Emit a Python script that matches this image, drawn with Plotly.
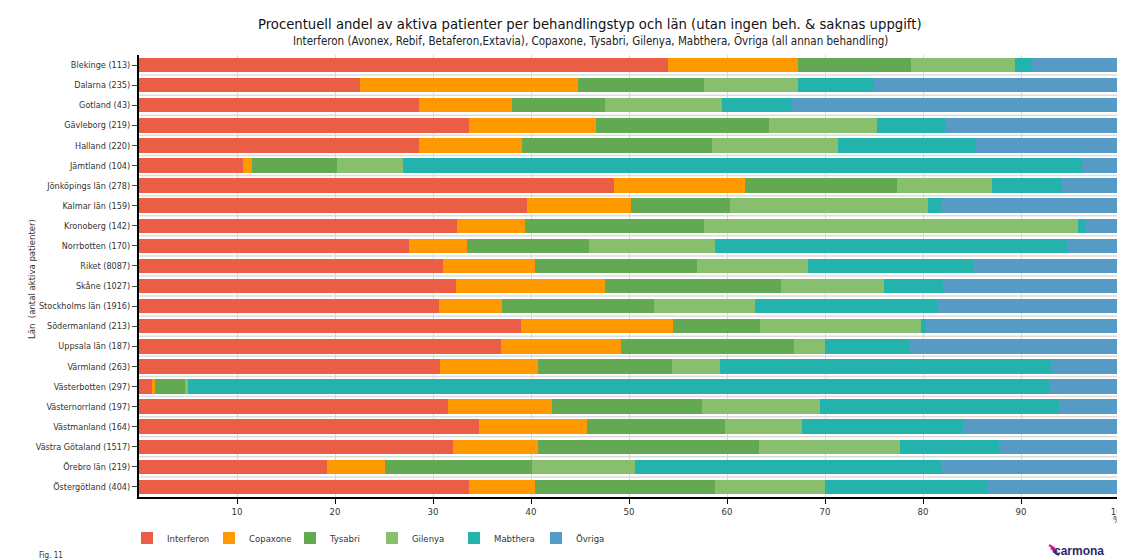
import plotly.graph_objects as go

lan = ["Blekinge (113)", "Dalarna (235)", "Gotland (43)", "Gävleborg (219)", "Halland (220)",
       "Jämtland (104)", "Jönköpings län (278)", "Kalmar län (159)", "Kronoberg (142)",
       "Norrbotten (170)", "Riket (8087)", "Skåne (1027)", "Stockholms län (1916)",
       "Södermanland (213)", "Uppsala län (187)", "Värmland (263)", "Västerbotten (297)",
       "Västernorrland (197)", "Västmanland (164)", "Västra Götaland (1517)",
       "Örebro län (219)", "Östergötland (404)"]

interferon = [54.0, 22.5, 28.6, 33.7, 28.6, 10.6, 48.5, 39.6, 32.4, 27.6, 31.0,
              32.3, 30.6, 39.0, 36.9, 30.7, 1.3, 31.5, 34.7, 32.0, 19.2, 33.7]
copaxone = [13.2, 22.3, 9.5, 12.9, 10.5, 0.9, 13.3, 10.6, 7.0, 5.9, 9.4,
            15.3, 6.4, 15.5, 12.3, 10.0, 0.3, 10.6, 11.0, 8.7, 5.9, 6.7]
tysabri = [11.6, 12.9, 9.5, 17.7, 19.4, 8.7, 15.5, 10.1, 18.3, 12.4, 16.5,
           17.9, 15.5, 8.9, 17.6, 13.7, 3.1, 15.3, 14.1, 22.6, 15.0, 18.4]
gilenya = [10.6, 9.5, 11.9, 11.0, 12.8, 6.7, 9.7, 20.2, 38.1, 12.9, 11.4,
           10.5, 10.4, 16.4, 3.2, 4.9, 0.3, 12.1, 7.9, 14.4, 10.5, 11.2]
mabthera = [1.7, 7.8, 7.1, 6.9, 14.1, 69.3, 7.2, 1.3, 0.7, 35.9, 16.8,
            6.0, 18.5, 0.5, 8.6, 33.8, 87.9, 24.4, 16.4, 10.1, 31.2, 16.6]
ovriga = [8.9, 25.0, 33.4, 17.8, 14.6, 3.8, 5.8, 18.2, 3.5, 5.3, 14.9,
          18.0, 18.6, 19.7, 21.4, 6.9, 7.1, 6.1, 15.9, 12.2, 18.2, 13.4]

series = [
    ("Interferon", interferon, "#EB5E46"),
    ("Copaxone", copaxone, "#FF9900"),
    ("Tysabri", tysabri, "#63A853"),
    ("Gilenya", gilenya, "#88BF6E"),
    ("Mabthera", mabthera, "#23B2AC"),
    ("Övriga", ovriga, "#559BC6"),
]

x_ticks = [10, 20, 30, 40, 50, 60, 70, 80, 90, 100]

FONT = "DejaVu Sans Condensed, DejaVu Sans, sans-serif"
OFF = 8  # page body margin offset
W, H = 1125 - OFF, 560 - OFF
L, R, T, B = 139 - OFF, 6, 55 - OFF, 63
PW, PH = W - L - R, H - T - B


def px(x):
    return (x - OFF - L) / PW


def py(y):
    return (H - B - (y - OFF)) / PH


fig = go.Figure()
legend_x = [140, 222, 303, 385, 467, 549]
for i, (name, vals, col) in enumerate(series):
    fig.add_trace(go.Bar(
        y=lan, x=vals, name=name, orientation="h",
        marker=dict(color=col, line=dict(width=0)),
        legend="legend" if i == 0 else f"legend{i + 1}",
    ))

legend_common = dict(orientation="h", yanchor="middle", xanchor="left",
                     font=dict(family=FONT, size=9.5, color="#333333"),
                     bgcolor="rgba(0,0,0,0)")
legends = {}
for i, lx in enumerate(legend_x):
    key = "legend" if i == 0 else f"legend{i + 1}"
    legends[key] = dict(x=px(lx - 13), y=py(538), **legend_common)

# light separators between rows
for i in range(len(lan) - 1):
    fig.add_shape(type="line", xref="paper", x0=0, x1=1, yref="y", y0=i + 0.5, y1=i + 0.5,
                  line=dict(color="#DCDCDC", width=1.5), layer="below")

fig.update_layout(
    barmode="stack",
    bargap=0.28,
    width=W, height=H,
    margin=dict(l=L, r=R, t=T, b=B, autoexpand=False),
    paper_bgcolor="white",
    plot_bgcolor="white",
    font=dict(family=FONT, size=10, color="#333333"),
    xaxis=dict(
        range=[0, 100], tickvals=x_ticks, ticktext=[str(v) for v in x_ticks],
        showgrid=True, gridcolor="#D8D8D8", gridwidth=1,
        showline=True, linecolor="black", linewidth=2,
        ticks="outside", ticklen=5, tickcolor="black",
        tickfont=dict(size=9.5, color="#333333"), zeroline=False,
        automargin=False, ticklabeloverflow="allow",
    ),
    yaxis=dict(
        autorange="reversed",
        showline=True, linecolor="black", linewidth=2,
        ticks="outside", ticklen=5, tickcolor="#444444",
        tickfont=dict(size=9, color="#333333"),
        automargin=False,
    ),
    showlegend=True,
    **legends,
)

fig.add_annotation(text="Procentuell andel av aktiva patienter per behandlingstyp och län (utan ingen beh. & saknas uppgift)",
                   xref="paper", yref="paper", x=px(590), y=py(23), xanchor="center", yanchor="middle",
                   showarrow=False, font=dict(family=FONT, size=14.7, color="#111111"))
fig.add_annotation(text="Interferon (Avonex, Rebif, Betaferon,Extavia), Copaxone, Tysabri, Gilenya, Mabthera, Övriga (all annan behandling)",
                   xref="paper", yref="paper", x=px(590), y=py(40), xanchor="center", yanchor="middle",
                   showarrow=False, font=dict(family=FONT, size=11.5, color="#222222"))
fig.add_annotation(text="Län  (antal aktiva patienter)", xref="paper", yref="paper",
                   x=px(31), y=py(279), xanchor="center", yanchor="middle", textangle=-90,
                   showarrow=False, font=dict(size=9.5, color="#333333"))
fig.add_annotation(text="%", xref="paper", yref="paper", x=px(1117), y=py(519), xanchor="center",
                   yanchor="middle", showarrow=False, font=dict(size=9.5, color="#333333"))
fig.add_annotation(text="Fig. 11", xref="paper", yref="paper", x=px(37), xanchor="left",
                   y=py(555), yanchor="middle", showarrow=False, font=dict(size=8, color="#333333"))
fig.add_annotation(text="<b>carmona</b>", xref="paper", yref="paper", x=px(1106), xanchor="right",
                   y=py(551), yanchor="middle", showarrow=False,
                   font=dict(family="Liberation Sans", size=12, color="#2B2A6B"))
# small logo mark beside the wordmark
for k, c in enumerate(["#E0218A", "#A0208F", "#5B2A86"]):
    fig.add_shape(type="line", xref="paper", yref="paper",
                  x0=px(1049 + 2 * k), y0=py(545 + 3 * k), x1=px(1055 + 2 * k), y1=py(549 + 3 * k),
                  line=dict(color=c, width=2.5))

fig.write_html("out.html")
